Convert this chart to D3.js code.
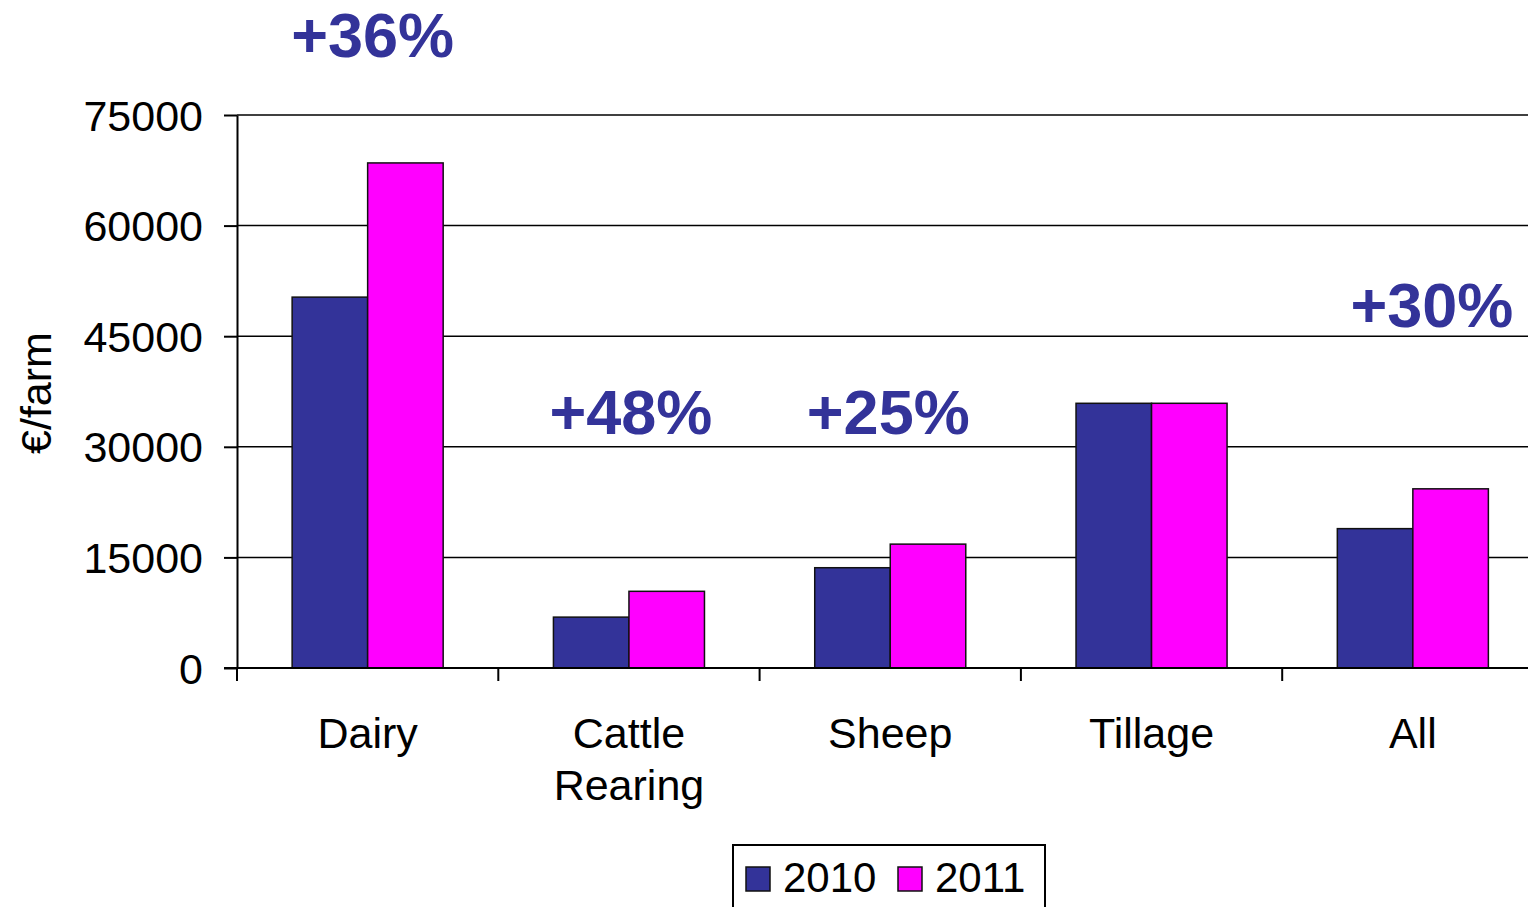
<!DOCTYPE html>
<html><head><meta charset="utf-8">
<script src="https://cdn.jsdelivr.net/npm/d3@7"></script>
<style>html,body{margin:0;padding:0;background:#fff;overflow:hidden}</style>
</head><body><svg id="c" width="1528" height="907"></svg>
<script>
const categories = [["Dairy"], ["Cattle", "Rearing"], ["Sheep"], ["Tillage"], ["All"]];
const seriesNames = ["2010", "2011"];
const values2010 = [50300, 6900, 13600, 35900, 18900];
const values2011 = [68500, 10400, 16800, 35900, 24300];
const yTicks = [0, 15000, 30000, 45000, 60000, 75000];
const changeLabels = ["+36%", "+48%", "+25%", null, "+30%"];
const changeLabelLevel = [82900, 31700, 31700, null, 46200];
const colors = ["#333399", "#FF00FF"];

(function(){
const svg = d3.select("#c");
const mLeft = 237, mTop = 115, mBottom = 668, step = 261.3;
const labelShift = [5, 2, -2, 0, 19];
const catKeys = categories.map(c => c.join(" "));
const x0 = d3.scaleBand().domain(catKeys).range([mLeft, mLeft + step * catKeys.length]).padding(0);
const x1 = d3.scaleBand().domain(seriesNames).range([0, x0.bandwidth()]).paddingInner(0).paddingOuter(0.73);
const y = d3.scaleLinear().domain([0, 75000]).range([mBottom, mTop]);
const font = "Arial, 'Liberation Sans', sans-serif";

svg.append("g").selectAll("line").data(yTicks.filter(d => d > 0)).join("line")
  .attr("x1", mLeft).attr("x2", 1528).attr("y1", d => y(d)).attr("y2", d => y(d))
  .attr("stroke", "#000").attr("stroke-width", 1.5);

const data = catKeys.map((k, i) => ({k, vals: [values2010[i], values2011[i]]}));
const g = svg.append("g").selectAll("g").data(data).join("g")
  .attr("transform", d => `translate(${x0(d.k)},0)`);
g.selectAll("rect").data(d => d.vals.map((v, j) => ({s: seriesNames[j], v, j}))).join("rect")
  .attr("x", d => x1(d.s)).attr("width", x1.bandwidth())
  .attr("y", d => y(d.v)).attr("height", d => mBottom - y(d.v))
  .attr("fill", d => colors[d.j]).attr("stroke", "#111").attr("stroke-width", 1.5);

const yAxis = d3.axisLeft(y).tickValues(yTicks).tickSize(13).tickSizeOuter(0).tickFormat(d3.format("d")).tickPadding(21);
const ya = svg.append("g").attr("transform", `translate(${mLeft},0)`).call(yAxis);
ya.select(".domain").attr("stroke", "#000").attr("stroke-width", 2);
ya.selectAll(".tick line").attr("stroke", "#000").attr("stroke-width", 2);
ya.selectAll(".tick text").attr("font-family", font).attr("font-size", 43).attr("fill", "#000").attr("dy", "0.35em");

svg.append("line").attr("x1", mLeft - 13).attr("x2", 1528).attr("y1", mBottom).attr("y2", mBottom).attr("stroke", "#000").attr("stroke-width", 2);
svg.append("g").selectAll("line").data(catKeys).join("line")
  .attr("x1", d => x0(d)).attr("x2", d => x0(d)).attr("y1", mBottom).attr("y2", mBottom + 13)
  .attr("stroke", "#000").attr("stroke-width", 2);

const cl = svg.append("g").selectAll("text").data(categories).join("text")
  .attr("x", (d, i) => x0(catKeys[i]) + x0.bandwidth() / 2).attr("y", 748)
  .attr("text-anchor", "middle").attr("font-family", font).attr("font-size", 43).attr("fill", "#000");
cl.selectAll("tspan").data(d => d).join("tspan")
  .attr("x", function() { return this.parentNode.getAttribute("x"); })
  .attr("dy", (d, i) => i === 0 ? 0 : 52).text(d => d);

svg.append("text").attr("transform", "translate(51,393) rotate(-90)").attr("text-anchor", "middle")
  .attr("font-family", font).attr("font-size", 43).attr("fill", "#000").text("€/farm");

svg.append("g").selectAll("text").data(changeLabels.map((t, i) => ({t, i})).filter(d => d.t)).join("text")
  .attr("x", d => x0(catKeys[d.i]) + x0.bandwidth() / 2 + labelShift[d.i]).attr("y", d => y(changeLabelLevel[d.i]))
  .attr("text-anchor", "middle").attr("font-family", font).attr("font-weight", "bold")
  .attr("font-size", 63).attr("fill", "#333399").text(d => d.t);

const lg = svg.append("g");
lg.append("rect").attr("x", 733).attr("y", 845).attr("width", 312).attr("height", 80).attr("fill", "#fff").attr("stroke", "#000").attr("stroke-width", 2);
const items = [{n: seriesNames[0], x: 746, c: colors[0]}, {n: seriesNames[1], x: 898, c: colors[1]}];
lg.selectAll("rect.sw").data(items).join("rect").attr("class", "sw")
  .attr("x", d => d.x).attr("y", 867).attr("width", 24).attr("height", 24).attr("fill", d => d.c).attr("stroke", "#111").attr("stroke-width", 1.5);
lg.selectAll("text").data(items).join("text").attr("x", d => d.x + 37).attr("y", 892)
  .attr("font-family", font).attr("font-size", 42).attr("fill", "#000").text(d => d.n);
})();
</script></body></html>
